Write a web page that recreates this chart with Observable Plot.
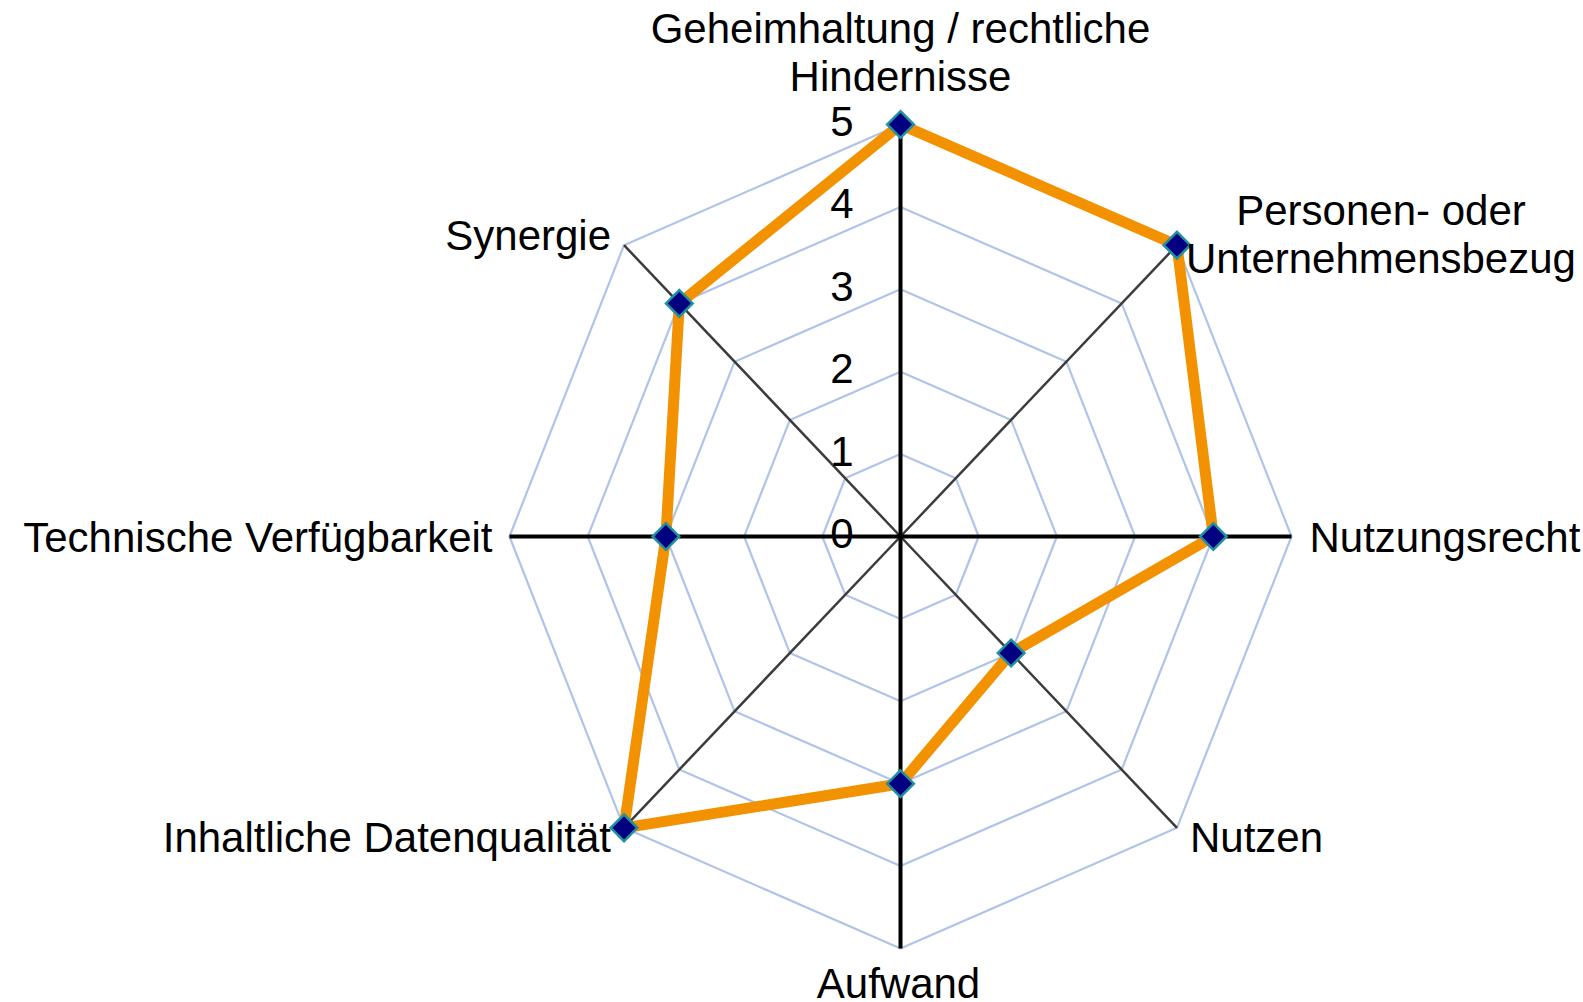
<!DOCTYPE html>
<html>
<head>
<meta charset="utf-8">
<script src="https://cdn.jsdelivr.net/npm/d3@7"></script>
<script src="https://cdn.jsdelivr.net/npm/@observablehq/plot@0.6"></script>
<style>
  html, body { margin: 0; padding: 0; background: #ffffff; }
  #chart { width: 1583px; height: 1002px; overflow: hidden; }
</style>
</head>
<body>
<div id="chart"></div>
<script>
// ---- data ----
const categories = [
  "Geheimhaltung / rechtliche\nHindernisse",
  "Personen- oder\nUnternehmensbezug",
  "Nutzungsrecht",
  "Nutzen",
  "Aufwand",
  "Inhaltliche Datenqualität",
  "Technische Verfügbarkeit",
  "Synergie"
];
const values = [5, 5, 4, 2, 3, 5, 3, 4];
const tickLabels = [0, 1, 2, 3, 4, 5];
const maxValue = 5;

// ---- layout (label offsets from spoke ends, px) ----
const labelLayout = [
  {dx: 0,    dy: -73, anchor: "middle"},
  {dx: 204,  dy: -12, anchor: "middle"},
  {dx: 18,   dy: 0,   anchor: "start"},
  {dx: 13,   dy: 9,   anchor: "start"},
  {dx: -2,   dy: 34,  anchor: "middle"},
  {dx: -13,  dy: 9,   anchor: "end"},
  {dx: -17,  dy: 0,   anchor: "end"},
  {dx: -13,  dy: -11, anchor: "end"}
];

const n = categories.length;
const angle = i => (i * 2 * Math.PI) / n;
const px = (i, v) => v * Math.sin(angle(i));
const py = (i, v) => v * Math.cos(angle(i));

const seriesPts = values.map((v, i) => ({cat: categories[i], x: px(i, v), y: py(i, v)}));
const rings = tickLabels.filter(t => t > 0).flatMap(t =>
  categories.map((c, i) => ({level: t, x: px(i, t), y: py(i, t)})));
const spokes = categories.map((c, i) => ({
  i, x1: 0, y1: 0, x2: px(i, maxValue), y2: py(i, maxValue), main: i % 2 === 0
}));
const labels = categories.map((c, i) => ({
  text: c, x: px(i, maxValue), y: py(i, maxValue), ...labelLayout[i]
}));

const W = 1583, H = 1002;
const cx = 900, cy = 536, rx = 391, ry = 412;

const font = "'Liberation Sans', Arial, Helvetica, sans-serif";

const chart = Plot.plot({
  width: W,
  height: H,
  margin: 0,
  x: {domain: [-maxValue, maxValue], range: [cx - rx, cx + rx], axis: null},
  y: {domain: [-maxValue, maxValue], range: [cy + ry, cy - ry], axis: null},
  style: {fontFamily: font, background: "#ffffff", color: "#000000"},
  marks: [
    Plot.line(rings, {x: "x", y: "y", z: "level", curve: "linear-closed", stroke: "#b0c4e8", strokeWidth: 2.2}),
    Plot.link(spokes.filter(d => !d.main), {x1: "x1", y1: "y1", x2: "x2", y2: "y2", stroke: "#3c3c3c", strokeWidth: 2.5}),
    Plot.link(spokes.filter(d => d.main), {x1: "x1", y1: "y1", x2: "x2", y2: "y2", stroke: "#000000", strokeWidth: 4}),
    Plot.text(tickLabels, {x: d => 0, y: d => d, text: d => String(d), dx: -47, dy: -2, textAnchor: "end", fontSize: 42, fill: "#000000"}),
    Plot.line(seriesPts, {x: "x", y: "y", curve: "linear-closed", stroke: "#f39200", strokeWidth: 11, strokeLinejoin: "miter"}),
    Plot.dot(seriesPts, {x: "x", y: "y", symbol: "diamond2", r: 12, fill: "#000080", stroke: "#2390a0", strokeWidth: 2.5}),
    ...labels.map(l => Plot.text([l], {
      x: "x", y: "y", text: "text", dx: l.dx, dy: l.dy, textAnchor: l.anchor,
      lineAnchor: "middle", lineHeight: 1.143, fontSize: 42, fill: "#000000"
    }))
  ]
});
document.getElementById("chart").appendChild(chart);
</script>
</body>
</html>
